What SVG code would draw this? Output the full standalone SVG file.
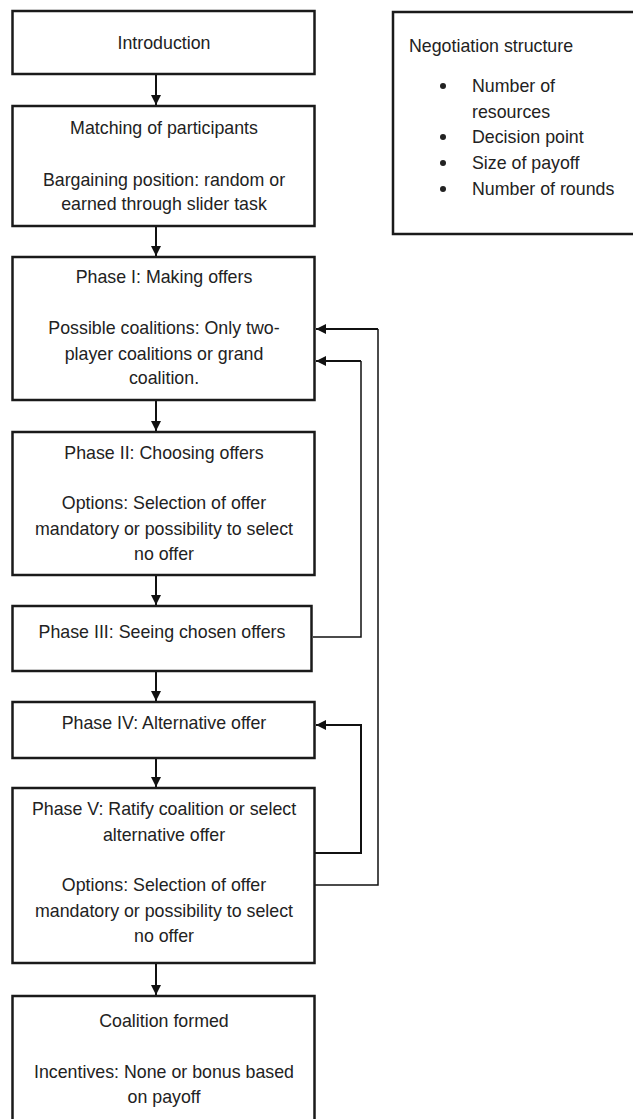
<svg xmlns="http://www.w3.org/2000/svg" width="633" height="1119" viewBox="0 0 633 1119">
<defs>
<style>
.box{fill:#fff;stroke:#1a1a1a;stroke-width:2.5}
.t{font-family:"Liberation Sans",Arial,sans-serif;font-size:17.8px;fill:#222;text-anchor:middle}
.tl{font-family:"Liberation Sans",Arial,sans-serif;font-size:17.8px;fill:#222}
.c{fill:none;stroke:#111;stroke-width:2}
.c1{fill:none;stroke:#111;stroke-width:1.5}
</style>
<marker id="ah" viewBox="0 0 10 10" refX="10" refY="5" markerWidth="10" markerHeight="10" markerUnits="userSpaceOnUse" orient="auto">
<path d="M0,0 L10,5 L0,10 Z" fill="#111"/>
</marker>
</defs>
<rect width="633" height="1119" fill="#fff"/>
<g id="connectors">
<line class="c" x1="156" y1="75" x2="156" y2="105" marker-end="url(#ah)"/>
<line class="c" x1="156" y1="227" x2="156" y2="256" marker-end="url(#ah)"/>
<line class="c" x1="156" y1="401" x2="156" y2="431" marker-end="url(#ah)"/>
<line class="c" x1="156" y1="576" x2="156" y2="605" marker-end="url(#ah)"/>
<line class="c" x1="156" y1="672" x2="156" y2="701" marker-end="url(#ah)"/>
<line class="c" x1="156" y1="759" x2="156" y2="787" marker-end="url(#ah)"/>
<line class="c" x1="156" y1="964" x2="156" y2="995" marker-end="url(#ah)"/>
<polyline class="c1" points="313,637 361,637 361,361"/>
<line class="c" x1="361" y1="361" x2="316" y2="361" marker-end="url(#ah)"/>
<polyline class="c1" points="315,885 378,885 378,329"/>
<line class="c" x1="378" y1="329" x2="316" y2="329" marker-end="url(#ah)"/>
<polyline class="c" points="315,853 361,853 361,725 316,725" marker-end="url(#ah)"/>
</g>
<g id="introduction">
<rect class="box" x="12.5" y="11" width="302" height="63"/>
<text class="t" x="164" y="49">Introduction</text>
</g>
<g id="matching">
<rect class="box" x="12.5" y="106" width="302" height="120"/>
<text class="t" x="164" y="134">Matching of participants</text>
<text class="t" x="164" y="186">Bargaining position: random or</text>
<text class="t" x="164" y="210">earned through slider task</text>
</g>
<g id="negotiation">
<rect class="box" x="393" y="12" width="250" height="222"/>
<text class="tl" x="409" y="52">Negotiation structure</text>
<g fill="#222">
<circle cx="443" cy="86" r="3"/>
<circle cx="443" cy="137" r="3"/>
<circle cx="443" cy="163" r="3"/>
<circle cx="443" cy="189" r="3"/>
</g>
<text class="tl" x="472" y="92">Number of</text>
<text class="tl" x="472" y="118">resources</text>
<text class="tl" x="472" y="143">Decision point</text>
<text class="tl" x="472" y="169">Size of payoff</text>
<text class="tl" x="472" y="195">Number of rounds</text>
</g>
<g id="phase1">
<rect class="box" x="12.5" y="257" width="302" height="143"/>
<text class="t" x="164" y="283">Phase I: Making offers</text>
<text class="t" x="164" y="334">Possible coalitions: Only two-</text>
<text class="t" x="164" y="360">player coalitions or grand</text>
<text class="t" x="164" y="384">coalition.</text>
</g>
<g id="phase2">
<rect class="box" x="12.5" y="432" width="302" height="143"/>
<text class="t" x="164" y="459">Phase II: Choosing offers</text>
<text class="t" x="164" y="509">Options: Selection of offer</text>
<text class="t" x="164" y="535">mandatory or possibility to select</text>
<text class="t" x="164" y="560">no offer</text>
</g>
<g id="phase3">
<rect class="box" x="12.5" y="606" width="299" height="65"/>
<text class="t" x="162" y="638">Phase III: Seeing chosen offers</text>
</g>
<g id="phase4">
<rect class="box" x="12.5" y="702" width="302" height="56"/>
<text class="t" x="164" y="729">Phase IV: Alternative offer</text>
</g>
<g id="phase5">
<rect class="box" x="12.5" y="788" width="302" height="175"/>
<text class="t" x="164" y="815">Phase V: Ratify coalition or select</text>
<text class="t" x="164" y="841">alternative offer</text>
<text class="t" x="164" y="891">Options: Selection of offer</text>
<text class="t" x="164" y="917">mandatory or possibility to select</text>
<text class="t" x="164" y="942">no offer</text>
</g>
<g id="coalition">
<rect class="box" x="12.5" y="996" width="302" height="140"/>
<text class="t" x="164" y="1027">Coalition formed</text>
<text class="t" x="164" y="1078">Incentives: None or bonus based</text>
<text class="t" x="164" y="1103">on payoff</text>
</g>
</svg>
